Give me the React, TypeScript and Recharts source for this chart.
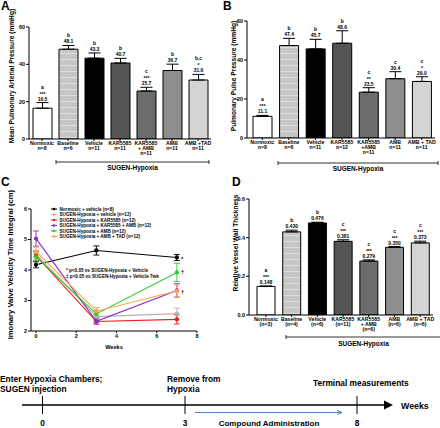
import { Bar, BarChart, Cell, ErrorBar, LabelList, Line, LineChart, XAxis, YAxis } from "recharts";

const FONT = '"Liberation Sans", Arial, sans-serif';

// Panel A - mean pulmonary arterial pressure
const groupsA = ["Normoxic\nn=8", "Baseline\nn=6", "Vehicle\nn=11", "KAR5585\nn=11", "KAR5585\n+ AMB\nn=11", "AMB\nn=11", "AMB +TAD\nn=11"];
const mpapValues = [16.5, 48.1, 43.3, 40.7, 25.7, 36.7, 31.6];
const mpapErrors = [3.0, 2.0, 2.8, 2.5, 2.0, 3.4, 3.0];
const mpapLetters = ["a", "b", "b", "b", "c", "b", "b,c"];
const mpapStars = ["***", "", "", "", "***", "", "*"];

// Panel B - pulmonary pulse pressure
const groupsB = ["Normoxic\nn=8", "Baseline\nn=6", "Vehicle\nn=11", "KAR5585\nn=12", "KAR5585\n+AMB\nn=11", "AMB\nn=11", "AMB + TAD\nn=11"];
const ppValues = [11.1, 47.4, 45.7, 48.6, 23.5, 30.4, 29.0];
const ppErrors = [0.5, 3.7, 4.9, 6.4, 2.3, 3.6, 2.4];
const ppLetters = ["a", "b", "b", "b", "c", "c", "c"];
const ppStars = ["***", "", "", "", "**", "", "*"];

// Panel C - pulmonary valve VTI over time
const weeks = [0, 3, 7];
const vtiNormoxic = [4.17, 4.64, 4.41];
const vtiNormoxicErr = [0.1, 0.15, 0.1];
const vtiVehicle = [4.52, 2.47, 2.57];
const vtiVehicleErr = [0.1, 0.06, 0.18];
const vtiKar = [4.47, 2.31, 2.38];
const vtiKarErr = [0.15, 0.05, 0.15];
const vtiKarAmb = [5.03, 2.32, 3.33];
const vtiKarAmbErr = [0.25, 0.1, 0.22];
const vtiAmb = [4.43, 2.56, 3.92];
const vtiAmbErr = [0.12, 0.1, 0.3];
const vtiAmbTad = [4.6, 2.65, 3.31];
const vtiAmbTadErr = [0.15, 0.12, 0.2];
const vtiNames = [
  "Normoxic + vehicle (n=8)",
  "SUGEN-Hypoxia + vehicle (n=12)",
  "SUGEN-Hypoxia + KAR5585 (n=12)",
  "SUGEN-Hypoxia + KAR5585 + AMB (n=12)",
  "SUGEN-Hypoxia + AMB (n=12)",
  "SUGEN-Hypoxia + AMB +  TAD (n=12)",
];
const vtiColors = ["#000000", "#b4b4b4", "#f01c1c", "#8a2bc8", "#2ecc2e", "#ffa347"];

// Panel D - relative vessel wall thickness
const groupsD = ["Normoxic\n(n=3)", "Baseline\n(n=4)", "Vehicle\n(n=6)", "KAR5585\n(n=11)", "KAR5585\n+ AMB\n(n=6)", "AMB\n(n=6)", "AMB + TAD\n(n=6)"];
const wallValues = [0.148, 0.43, 0.476, 0.381, 0.279, 0.35, 0.373];
const wallErrors = [0.002, 0.009, 0.004, 0.008, 0.006, 0.004, 0.009];
const wallLetters = ["a", "b", "b", "c", "c", "c", "c"];
const wallStars = ["***", "", "", "***", "***", "***", "***"];

// Timeline schematic
const timelineWeeks = ["0", "3", "8"];

const barFills = ["#ffffff", "url(#baselinePat)", "#000000", "#555555", "#6c6c6c", "#8e8e8e", "#d4d4d4"];

const toRows = (groups: string[], values: number[], errors: number[]) =>
  groups.map((g, i) => ({ group: g, value: values[i], err: [0, errors[i]] }));

const vtiSeries = [
  { key: "normoxic", values: vtiNormoxic, errs: vtiNormoxicErr },
  { key: "vehicle", values: vtiVehicle, errs: vtiVehicleErr },
  { key: "kar", values: vtiKar, errs: vtiKarErr },
  { key: "karAmb", values: vtiKarAmb, errs: vtiKarAmbErr },
  { key: "amb", values: vtiAmb, errs: vtiAmbErr },
  { key: "ambTad", values: vtiAmbTad, errs: vtiAmbTadErr },
];

const vtiRows = weeks.map((w, i) => {
  const row: any = { week: w };
  vtiSeries.forEach((s) => {
    row[s.key] = s.values[i];
    row[s.key + "Err"] = s.errs[i];
  });
  return row;
});

const CategoryTick = ({ x, y, payload }: any) => {
  const lines = String(payload.value).split("\n");
  return (
    <text x={x} y={y + 3.5} textAnchor="middle" fontSize={5.2} fontWeight="bold" fontFamily={FONT} fill="#000">
      {lines.map((l, i) => (
        <tspan key={i} x={x} dy={i === 0 ? 0 : 5}>
          {l}
        </tspan>
      ))}
    </text>
  );
};

// value, stars and significance letter stacked above each error bar
const makeBarLabel = (values: number[], errors: number[], letters: string[], stars: string[], digits: number) => (props: any) => {
  const vb = props.viewBox || props;
  const x = props.x ?? vb.x;
  const y = props.y ?? vb.y;
  const width = props.width ?? vb.width;
  const height = props.height ?? vb.height;
  const i = props.index;
  const cap = y - (height / values[i]) * errors[i];
  const cx = x + width / 2;
  const common = { x: cx, textAnchor: "middle" as const, fontSize: 5, fontWeight: "bold", fontFamily: FONT, fill: "#000" };
  const out = [
    <text key="v" {...common} y={cap - 2}>
      {values[i].toFixed(digits)}
    </text>,
  ];
  let base = cap - 2;
  if (stars[i]) {
    base -= 6;
    out.push(
      <text key="s" {...common} y={base + 1}>
        {stars[i]}
      </text>
    );
  }
  out.push(
    <text key="l" {...common} y={base - 6}>
      {letters[i]}
    </text>
  );
  return <g>{out}</g>;
};

const axisTick = { fontSize: 5.4, fontWeight: "bold", fontFamily: FONT, fill: "#000" };

type BarPanelProps = {
  left: number;
  top: number;
  rows: any[];
  values: number[];
  errors: number[];
  letters: string[];
  stars: string[];
  digits: number;
  domain: number[];
  ticks: number[];
  tickFmt?: (v: number) => string;
  marginTop: number;
  marginRight: number;
  yWidth: number;
  xHeight: number;
  barSize: number;
  padLeft?: number;
};

const BarPanel = (p: BarPanelProps) => (
  <div style={{ position: "absolute", left: p.left, top: p.top }}>
    <BarChart width={220} height={170} data={p.rows} margin={{ top: p.marginTop, right: p.marginRight, left: 0, bottom: 0 }} barSize={p.barSize}>
      <XAxis
        dataKey="group"
        interval={0}
        height={p.xHeight}
        tick={<CategoryTick />}
        tickSize={2}
        tickMargin={0}
        stroke="#000"
        padding={{ left: p.padLeft ?? 0, right: 0 }}
      />
      <YAxis
        width={p.yWidth}
        domain={p.domain}
        ticks={p.ticks}
        tick={axisTick}
        tickFormatter={p.tickFmt}
        tickSize={3}
        tickMargin={1}
        stroke="#000"
        allowDataOverflow
      />
      <Bar dataKey="value" stroke="#000" strokeWidth={1} isAnimationActive={false}>
        {p.rows.map((_, i) => (
          <Cell key={i} fill={barFills[i]} />
        ))}
        <ErrorBar dataKey="err" width={6} stroke="#000" strokeWidth={1} direction="y" />
        <LabelList dataKey="value" content={makeBarLabel(p.values, p.errors, p.letters, p.stars, p.digits)} />
      </Bar>
    </BarChart>
  </div>
);

const title = { fontFamily: FONT, fontWeight: "bold", fill: "#000" } as const;

const Bracket = ({ x1, x2, y, ty }: { x1: number; x2: number; y: number; ty: number }) => (
  <g>
    <line x1={x1} x2={x2} y1={y} y2={y} stroke="#000" strokeWidth={0.8} />
    <line x1={x1} x2={x1} y1={y - 2} y2={y + 2} stroke="#000" strokeWidth={0.8} />
    <line x1={x2} x2={x2} y1={y - 2} y2={y + 2} stroke="#000" strokeWidth={0.8} />
    <text x={(x1 + x2) / 2} y={ty} textAnchor="middle" fontSize={6.5} {...title}>
      SUGEN-Hypoxia
    </text>
  </g>
);

const tickX = [42.5, 185, 357];

const Overlay = () => (
  <svg width={440} height={428} style={{ position: "absolute", left: 0, top: 0, pointerEvents: "none" }}>
    <defs>
      <pattern id="baselinePat" width={6} height={6} patternUnits="userSpaceOnUse">
        <rect width={6} height={6} fill="#c6c6c6" />
        <line x1={0} x2={6} y1={5.5} y2={5.5} stroke="#e6e6e6" strokeWidth={0.8} />
      </pattern>
      <clipPath id="clipC">
        <rect x={0} y={170} width={220} height={170} />
      </clipPath>
    </defs>
    {/* panel letters */}
    <text x={1} y={10} fontSize={12} {...title}>A</text>
    <text x={223} y={10} fontSize={12} {...title}>B</text>
    <text x={1} y={186} fontSize={12} {...title}>C</text>
    <text x={232} y={186} fontSize={12} {...title}>D</text>
    {/* y titles */}
    <text transform="translate(13.5,76) rotate(-90)" textAnchor="middle" fontSize={6.6} {...title}>
      Mean Pulmonary Arterial  Pressure  (mmHg)
    </text>
    <text transform="translate(235.5,76) rotate(-90)" textAnchor="middle" fontSize={6.6} {...title}>
      Pulmonary Pulse  Pressure  (mmHg)
    </text>
    <g clipPath="url(#clipC)">
      <text transform="translate(12.5,190) rotate(-90)" textAnchor="end" fontSize={7.6} {...title}>
        Pulmonary Valve  Velocity Time Integral (cm)
      </text>
    </g>
    <text transform="translate(238,243) rotate(-90)" textAnchor="middle" fontSize={6.6} {...title}>
      Relative  Vessel Wall Thickness
    </text>
    {/* brackets */}
    <Bracket x1={56} x2={209} y={162} ty={170} />
    <Bracket x1={278} x2={438} y={163} ty={171} />
    <Bracket x1={286} x2={441} y={337} ty={346} />
    {/* panel C legend */}
    {vtiNames.map((n, i) => {
      const y = 209 + i * 5.5;
      return (
        <g key={n}>
          <line x1={51} x2={57} y1={y} y2={y} stroke={vtiColors[i]} strokeWidth={1} />
          <circle cx={54} cy={y} r={1.3} fill={vtiColors[i]} />
          <text x={59.5} y={y + 1.6} fontSize={4.6} {...title}>
            {n}
          </text>
        </g>
      );
    })}
    <text x={66} y={271.5} fontSize={4.6} {...title}>* p&lt;0.05 vs SUGEN-Hypoxia + Vehicle</text>
    <text x={66} y={278} fontSize={4.6} {...title}>‡ p&lt;0.05 vs SUGEN-Hypoxia + Vehicle 7wk</text>
    <text x={181} y={261} fontSize={5.5} {...title}>*</text>
    <text x={181} y={274} fontSize={5.5} {...title}>†</text>
    <text x={181} y={294} fontSize={5.5} {...title}>†</text>
    {/* timeline */}
    <text x={0} y={382} fontSize={8.4} {...title}>Enter Hypoxia Chambers;</text>
    <text x={0} y={392} fontSize={8.4} {...title}>SUGEN injection</text>
    <text x={167} y={382} fontSize={8.4} {...title}>Remove from</text>
    <text x={167} y={392} fontSize={8.4} {...title}>Hypoxia</text>
    <text x={313} y={386} fontSize={8.4} {...title}>Terminal measurements</text>
    <line x1={22} x2={388} y1={405} y2={405} stroke="#000" strokeWidth={1.3} />
    <polygon points="384,400.5 393,405 384,409.5" fill="#000" />
    <text x={401} y={409} fontSize={8.8} {...title}>Weeks</text>
    {tickX.map((x) => (
      <line key={x} x1={x} x2={x} y1={396} y2={414} stroke="#000" strokeWidth={1} />
    ))}
    {timelineWeeks.map((t, i) => (
      <text key={t} x={tickX[i]} y={426} textAnchor="middle" fontSize={8.4} {...title}>
        {t}
      </text>
    ))}
    <line x1={195} x2={341} y1={412.5} y2={412.5} stroke="#4a86c8" strokeWidth={1} />
    <polyline points="337,410.5 342,412.5 337,414.5" fill="none" stroke="#4a86c8" strokeWidth={1} />
    <text x={269} y={426} textAnchor="middle" fontSize={8} {...title}>Compound Administration</text>
  </svg>
);

const VtiPanel = () => (
  <div style={{ position: "absolute", left: 0, top: 170 }}>
    <LineChart width={220} height={185} data={vtiRows} margin={{ top: 39, right: 23, left: 0, bottom: 0 }}>
      <XAxis
        dataKey="week"
        type="number"
        domain={[0, 8]}
        ticks={[0, 2, 4, 6, 8]}
        height={24}
        tick={axisTick}
        tickSize={2}
        tickMargin={1}
        stroke="#000"
        padding={{ left: 5, right: 0 }}
        label={{ value: "Weeks", position: "insideBottom", offset: 6, fontSize: 5.6, fontWeight: "bold", fontFamily: FONT, fill: "#000" }}
      />
      <YAxis width={31} domain={[2, 6]} ticks={[2, 3, 4, 5, 6]} tick={axisTick} tickSize={3} tickMargin={1} stroke="#000" />
      {vtiSeries.map((s, i) => (
        <Line
          key={s.key}
          dataKey={s.key}
          stroke={vtiColors[i]}
          strokeWidth={1.1}
          dot={{ r: 1.6, fill: vtiColors[i], stroke: vtiColors[i] }}
          isAnimationActive={false}
        >
          <ErrorBar dataKey={s.key + "Err"} width={3} stroke={vtiColors[i]} strokeWidth={0.9} direction="y" />
        </Line>
      ))}
    </LineChart>
  </div>
);

export default function App() {
  return (
    <div style={{ position: "absolute", left: 0, top: 0, width: 440, height: 428, background: "#fff", overflow: "hidden" }}>
      <BarPanel
        left={0}
        top={0}
        rows={toRows(groupsA, mpapValues, mpapErrors)}
        values={mpapValues}
        errors={mpapErrors}
        letters={mpapLetters}
        stars={mpapStars}
        digits={1}
        domain={[0, 60]}
        ticks={[0, 20, 40, 60]}
        marginTop={27}
        marginRight={9}
        yWidth={29}
        xHeight={31}
        barSize={19}
      />
      <BarPanel
        left={220}
        top={0}
        rows={toRows(groupsB, ppValues, ppErrors)}
        values={ppValues}
        errors={ppErrors}
        letters={ppLetters}
        stars={ppStars}
        digits={1}
        domain={[0, 60]}
        ticks={[0, 20, 40, 60]}
        marginTop={21}
        marginRight={5}
        yWidth={27}
        xHeight={32}
        barSize={19}
        padLeft={2}
      />
      <VtiPanel />
      <BarPanel
        left={220}
        top={170}
        rows={toRows(groupsD, wallValues, wallErrors)}
        values={wallValues}
        errors={wallErrors}
        letters={wallLetters}
        stars={wallStars}
        digits={3}
        domain={[0, 0.6]}
        ticks={[0, 0.2, 0.4, 0.6]}
        tickFmt={(v: number) => v.toFixed(1)}
        marginTop={29}
        marginRight={7}
        yWidth={29}
        xHeight={25}
        barSize={18}
        padLeft={4}
      />
      <Overlay />
    </div>
  );
}
